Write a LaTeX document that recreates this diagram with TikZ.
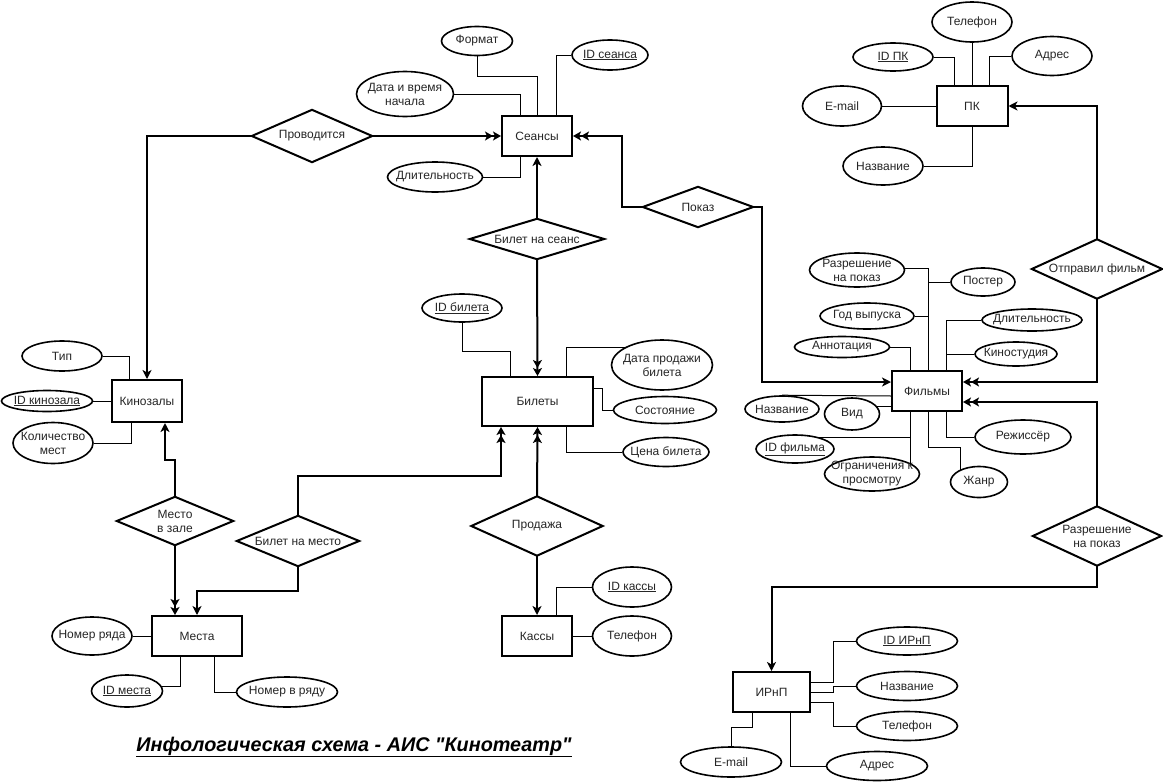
\documentclass[tikz,border=0pt]{standalone}
\usepackage{fontspec}
\setmainfont{Liberation Sans}
\usetikzlibrary{shapes.geometric,arrows.meta,backgrounds}
\newcommand\straightquote{\XeTeXglyph\XeTeXglyphindex "quotedbl"\relax}
\begin{document}
\begin{tikzpicture}[x=1pt,y=-1pt,
  every node/.style={font=\fontsize{12}{14}\selectfont,text=black!85},
  entity/.style={draw,line width=2pt,fill=white,inner sep=0pt,minimum width=70pt,minimum height=40pt},
  attr/.style={ellipse,draw,line width=1.6pt,fill=white,inner sep=-30pt,align=center},
  rel/.style={rectangle,inner sep=0pt,align=center},
  relline/.style={line width=2pt},
  attrline/.style={line width=1pt},
  one/.style={relline,-{Stealth[length=9pt,width=9pt,inset=2.5pt]}},
  many/.style={relline,-{Stealth[length=8pt,width=9pt,inset=2pt]Stealth[length=8pt,width=9pt,inset=2pt]}}
]
\useasboundingbox (0,0) rectangle (1163,782);

% entities
\node[entity] (sea) at (537,136) {Сеансы};
\node[entity,minimum width=71pt] (pk) at (972,106) {ПК};
\node[entity,minimum height=42pt] (kz) at (147,401) {Кинозалы};
\node[entity,minimum width=111pt,minimum height=49pt] (bil) at (537.5,401.5) {Билеты};
\node[entity] (fil) at (927,391) {Фильмы};
\node[entity,minimum width=90pt] (mes) at (197,636) {Места};
\node[entity] (kas) at (537,636) {Кассы};
\node[entity,minimum width=77pt] (irnp) at (771.5,692) {ИРнП};

% relationships
\node[rel,minimum width=120pt,minimum height=52pt] (rProv) at (312,136) {Проводится};
\node[rel,minimum width=134pt,minimum height=40pt] (rBS) at (537,239) {Билет на сеанс};
\node[rel,minimum width=110pt,minimum height=40pt] (rPok) at (698,207) {Показ};
\node[rel,minimum width=130pt,minimum height=59pt] (rOtp) at (1097,269) {Отправил фильм};
\node[rel,minimum width=128pt,minimum height=59pt] (rRaz) at (1097,536) {Разрешение\\на показ};
\node[rel,minimum width=131pt,minimum height=59pt] (rProd) at (537,526) {Продажа};
\node[rel,minimum width=122pt,minimum height=50pt] (rBM) at (298,541) {Билет на место};
\node[rel,minimum width=116pt,minimum height=48pt] (rMZ) at (175,521) {Место\\в зале};
\foreach \r in {rProv,rBS,rPok,rOtp,rRaz,rProd,rBM,rMZ}
  \draw[line width=2pt] (\r.north) -- (\r.east) -- (\r.south) -- (\r.west) -- cycle;

% attributes: sessions
\node[attr,minimum width=71pt,minimum height=29pt] (fmt) at (477,41) {Формат};
\node[attr,minimum width=76pt,minimum height=30pt] (ids) at (610,55) {\underline{ID сеанса}};
\node[attr,minimum width=97pt,minimum height=45pt] (dtv) at (405,94) {Дата и время\\начала};
\node[attr,minimum width=95pt,minimum height=30pt] (dls) at (435,177) {Длительность};
% attributes: suppliers
\node[attr,minimum width=80pt,minimum height=40pt] (tel) at (972,22) {Телефон};
\node[attr,minimum width=80pt,minimum height=28pt] (idpk) at (893,57) {\underline{ID ПК}};
\node[attr,minimum width=80pt,minimum height=39pt] (adr) at (1052,56) {Адрес};
\node[attr,minimum width=79pt,minimum height=40pt] (empk) at (842,106) {E-mail};
\node[attr,minimum width=80pt,minimum height=38pt] (nampk) at (883,166) {Название};
% attributes: halls
\node[attr,minimum width=80pt,minimum height=30pt] (tip) at (62,356) {Тип};
\node[attr,minimum width=91pt,minimum height=21pt] (idk) at (47,401) {\underline{ID кинозала}};
\node[attr,minimum width=80pt,minimum height=41pt] (kol) at (53,443) {Количество\\мест};
% attributes: tickets
\node[attr,minimum width=80pt,minimum height=28pt] (idb) at (462,308) {\underline{ID билета}};
\node[attr,minimum width=101pt,minimum height=50pt] (dpb) at (662,365) {Дата продажи\\билета};
\node[attr,minimum width=103pt,minimum height=27pt] (sost) at (665,410) {Состояние};
\node[attr,minimum width=86pt,minimum height=29pt] (cena) at (666,452) {Цена билета};
% attributes: films
\node[attr,minimum width=95pt,minimum height=34pt] (razp) at (857,270) {Разрешение\\на показ};
\node[attr,minimum width=64pt,minimum height=28pt] (post) at (983,282) {Постер};
\node[attr,minimum width=94pt,minimum height=26pt] (god) at (867,316) {Год выпуска};
\node[attr,minimum width=100pt,minimum height=22pt] (dlf) at (1032,320) {Длительность};
\node[attr,minimum width=82pt,minimum height=24pt] (kin) at (1016,354) {Киностудия};
\node[attr,minimum width=95pt,minimum height=21pt] (ann) at (842,347) {Аннотация};
\node[attr,minimum width=74pt,minimum height=26pt] (namf) at (782,409) {Название};
\node[attr,minimum width=55pt,minimum height=32pt] (vid) at (852,414) {Вид};
\node[attr,minimum width=78pt,minimum height=28pt] (idf) at (795,449) {\underline{ID фильма}};
\node[attr,minimum width=95pt,minimum height=34pt] (ogr) at (872,474) {Ограничения к\\просмотру};
\node[attr,minimum width=96pt,minimum height=34pt] (rej) at (1023,437) {Режиссёр};
\node[attr,minimum width=57pt,minimum height=31pt] (zh) at (979,482) {Жанр};
% attributes: seats
\node[attr,minimum width=80pt,minimum height=38pt] (nr) at (92,636) {Номер ряда};
\node[attr,minimum width=71pt,minimum height=32pt] (idm) at (127,691) {\underline{ID места}};
\node[attr,minimum width=101pt,minimum height=30pt] (nvr) at (287,692) {Номер в ряду};
% attributes: ticket offices
\node[attr,minimum width=79pt,minimum height=40pt] (idka) at (632,587) {\underline{ID кассы}};
\node[attr,minimum width=79pt,minimum height=40pt] (telk) at (632,636) {Телефон};
% attributes: rights holders
\node[attr,minimum width=101pt,minimum height=28pt] (idir) at (907,641) {\underline{ID ИРнП}};
\node[attr,minimum width=101pt,minimum height=29pt] (namir) at (907,686) {Название};
\node[attr,minimum width=101pt,minimum height=29pt] (telir) at (907,726) {Телефон};
\node[attr,minimum width=101pt,minimum height=30pt] (emir) at (731,762) {E-mail};
\node[attr,minimum width=101pt,minimum height=29pt] (adir) at (877,766) {Адрес};

% title
\node[text=black] (title) at (354,747) {\fontsize{19.8}{22}\selectfont\bfseries\itshape\underline{Инфологическая схема - АИС \straightquote Кинотеатр\straightquote}};

\begin{scope}[on background layer]
\fill[white] (0,0) rectangle (1163,782);
% relationship connectors
\draw[one] (rProv.west) -| (kz.north);
\draw[many] (rProv.east) -- (sea.west);
\draw[many] (rPok.west) -- ++(-21,0) |- (sea.east);
\draw[one] (rPok.east) -- ++(9,0) |- (fil.west |- 0,382);
\draw[one] (rBS.north) -- (sea.south);
\draw[many] (rBS.south) -- (bil.north);
\draw[one] (rOtp.north) |- (pk.east);
\draw[many] (rOtp.south) |- (fil.east |- 0,382);
\draw[many] (rRaz.north) |- (fil.east |- 0,402);
\draw[one] (rRaz.south) -- (rRaz.south |- 0,587) -| (irnp.north);
\draw[many] (rProd.north) -- (bil.south);
\draw[one] (rProd.south) -- (kas.north);
\draw[many] (rBM.north) |- (501,476) -- (bil.south -| 501,0);
\draw[one] (rBM.south) -- (rBM.south |- 0,591) -| (mes.north);
\draw[one] (rMZ.north) -- (rMZ.north |- 0,460) -| (kz.south -| 165,0);
\draw[many] (rMZ.south) -- (mes.north -| 175,0);

% attribute links
\draw[attrline] (fmt) |- (sea.north |- 0,76) -- (sea.north);
\draw[attrline] (ids) -- (ids -| 556,0) -- (sea.north -| 556,0);
\draw[attrline] (dtv) -| (sea.north -| 520,0);
\draw[attrline] (dls) -| (sea.south -| 520,0);

\draw[attrline] (tel) -- (pk.north);
\draw[attrline] (idpk) -| (pk.north -| 954,0);
\draw[attrline] (adr) -| (pk.north -| 989,0);
\draw[attrline] (empk) -- (pk);
\draw[attrline] (nampk) -| (pk.south);

\draw[attrline] (tip) -| (kz.north -| 129,0);
\draw[attrline] (idk) -- (kz);
\draw[attrline] (kol) -| (kz.south -| 131,0);

\draw[attrline] (idb) |- (510,351) -- (bil.north -| 510,0);
\draw[attrline] (bil.north -| 566,0) |- (dpb |- 0,347);
\draw[attrline] (bil.east |- 0,388) -- (602,388) |- (sost);
\draw[attrline] (bil.south -| 566,0) |- (cena);

\draw[attrline] (razp.center |- 0,268) -| (fil.north -| 928,0);
\draw[attrline] (928,282) -- (post);
\draw[attrline] (god) -- (god -| 928,0);
\draw[attrline] (fil.north -| 946,0) |- (dlf);
\draw[attrline] (kin -| 946,0) -- (kin);
\draw[attrline] (ann) -| (fil.north -| 910,0);
\draw[attrline] (fil.west |- 0,396) -- (namf.north);
\draw[attrline] (fil.west |- 0,406) -- (vid.center |- 0,406);
\draw[attrline] (fil.south -| 910,0) -- (910,468);
\draw[attrline] (910,437) -- (idf.center |- 0,437);
\draw[attrline] (fil.south -| 946,0) |- (rej);
\draw[attrline] (fil.south -| 928,0) |- (960,447) -- (zh -| 960,0);

\draw[attrline] (nr) -- (mes);
\draw[attrline] (idm.center |- 0,686) -| (mes.south -| 180,0);
\draw[attrline] (mes.south -| 214,0) |- (nvr);

\draw[attrline] (kas.north -| 556,0) |- (idka);
\draw[attrline] (kas) -- (telk);

\draw[attrline] (irnp.east |- 0,682) -- (833,682) |- (idir);
\draw[attrline] (irnp.east |- 0,692) -- (833,692) |- (namir);
\draw[attrline] (irnp.east |- 0,702) -- (833,702) |- (telir);
\draw[attrline] (irnp.south -| 752,0) -- (752,727) -| (emir);
\draw[attrline] (irnp.south -| 790,0) |- (adir);
\end{scope}
\end{tikzpicture}
\end{document}
